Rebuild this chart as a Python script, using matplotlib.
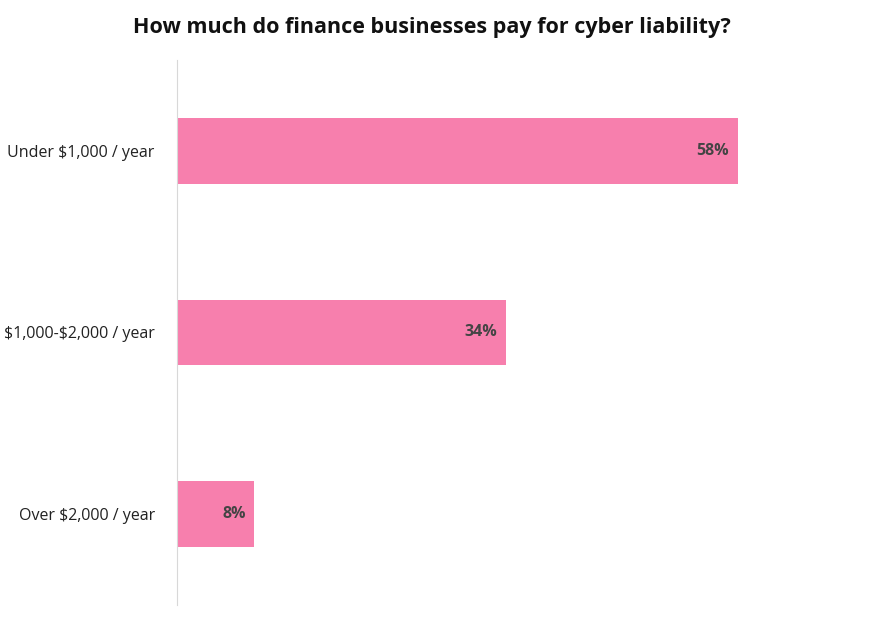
import matplotlib
matplotlib.use("Agg")
import matplotlib.pyplot as plt

categories = ["Under $1,000 / year", "$1,000-$2,000 / year", "Over $2,000 / year"]
values = [58, 34, 8]
labels = ["58%", "34%", "8%"]

plt.rcParams["font.family"] = "Open Sans"
plt.rcParams["text.parse_math"] = False
W, H = 869, 620
fig = plt.figure(figsize=(W/100, H/100), dpi=100)
left, right, top, bottom = 177, 869, 60, 605
ax = fig.add_axes([left/W, 1-bottom/H, (right-left)/W, (bottom-top)/H])
pxper = 561/58
ax.set_xlim(0, (right-left)/pxper)
ax.set_ylim(2.5, -0.5)
ypos = range(len(categories))
ax.barh(list(ypos), values, height=0.36, color="#F77FAD")
for y, v, l in zip(ypos, values, labels):
    ax.text(v - 0.9, y, l, ha="right", va="center", fontsize=11.5, fontweight="bold", color="#444444")
ax.set_yticks(list(ypos))
ax.set_yticklabels(categories, fontsize=11.5, color="#222222")
ax.tick_params(axis="y", length=0, pad=16)
ax.set_xticks([])
for s in ["top", "right", "bottom"]:
    ax.spines[s].set_visible(False)
ax.spines["left"].set_color("#d8d8d8")
fig.text(432/W, 1-28/H, "How much do finance businesses pay for cyber liability?", ha="center", va="center",
         fontsize=15.5, fontweight="bold", color="#111111")
fig.savefig("out.png", dpi=100)
